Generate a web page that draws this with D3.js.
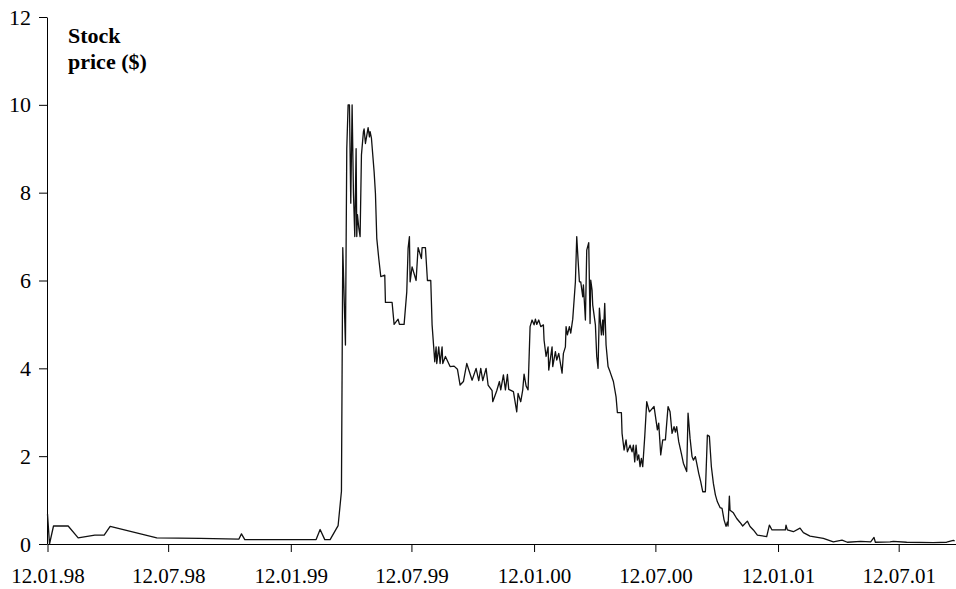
<!DOCTYPE html>
<html><head><meta charset="utf-8">
<script src="https://cdn.jsdelivr.net/npm/d3@7"></script>
<style>body{margin:0;background:#fff} svg{display:block} text{font-family:"Liberation Serif","Times New Roman",serif;}</style>
</head><body>
<svg id="c" width="956" height="589"></svg>
<script>
const dates = [
"1998-01-12","1998-01-15","1998-01-21","1998-02-12","1998-02-27","1998-03-24","1998-04-07","1998-04-16","1998-06-25","1998-08-29",
"1998-10-26","1998-10-30","1998-11-04","1999-02-19","1999-02-25","1999-03-04","1999-03-12","1999-03-24","1999-03-29","1999-03-31",
"1999-04-04","1999-04-06","1999-04-08","1999-04-10","1999-04-12","1999-04-14","1999-04-16","1999-04-18","1999-04-20","1999-04-21",
"1999-04-22","1999-04-24","1999-04-26","1999-04-28","1999-05-01","1999-05-02","1999-05-04","1999-05-08","1999-05-10","1999-05-11",
"1999-05-13","1999-05-17","1999-05-19","1999-05-21","1999-05-24","1999-05-27","1999-06-02","1999-06-03","1999-06-13","1999-06-16",
"1999-06-22","1999-06-24","1999-07-01","1999-07-05","1999-07-07","1999-07-09","1999-07-10","1999-07-13","1999-07-19","1999-07-22",
"1999-07-27","1999-07-28","1999-08-02","1999-08-05","1999-08-10","1999-08-12","1999-08-16","1999-08-18","1999-08-19","1999-08-22",
"1999-08-24","1999-08-27","1999-08-28","1999-09-01","1999-09-08","1999-09-14","1999-09-19","1999-09-23","1999-09-28","1999-10-03",
"1999-10-11","1999-10-17","1999-10-21","1999-10-24","1999-10-27","1999-11-01","1999-11-04","1999-11-10","1999-11-11","1999-11-17",
"1999-11-21","1999-11-23","1999-11-27","1999-11-30","1999-12-03","1999-12-05","1999-12-12","1999-12-17","1999-12-19","1999-12-23",
"1999-12-26","1999-12-28","1999-12-31","2000-01-03","2000-01-06","2000-01-09","2000-01-12","2000-01-14","2000-01-16","2000-01-19",
"2000-01-22","2000-01-26","2000-01-27","2000-01-30","2000-02-02","2000-02-03","2000-02-08","2000-02-09","2000-02-13","2000-02-15",
"2000-02-18","2000-02-23","2000-02-25","2000-02-28","2000-02-29","2000-03-02","2000-03-05","2000-03-07","2000-03-10","2000-03-14",
"2000-03-16","2000-03-18","2000-03-20","2000-03-22","2000-03-25","2000-03-26","2000-03-29","2000-03-31","2000-04-03","2000-04-05",
"2000-04-06","2000-04-08","2000-04-09","2000-04-13","2000-04-15","2000-04-17","2000-04-19","2000-04-22","2000-04-24","2000-04-25",
"2000-04-27","2000-04-29","2000-05-02","2000-05-05","2000-05-10","2000-05-14","2000-05-16","2000-05-22","2000-05-23","2000-05-26",
"2000-05-29","2000-05-31","2000-06-04","2000-06-07","2000-06-09","2000-06-11","2000-06-13","2000-06-15","2000-06-17","2000-06-19",
"2000-06-21","2000-06-23","2000-06-26","2000-06-29","2000-07-03","2000-07-10","2000-07-15","2000-07-17","2000-07-20","2000-07-23",
"2000-07-27","2000-07-31","2000-08-03","2000-08-06","2000-08-09","2000-08-11","2000-08-13","2000-08-16","2000-08-20","2000-08-23",
"2000-08-28","2000-08-30","2000-09-02","2000-09-05","2000-09-07","2000-09-10","2000-09-12","2000-09-15","2000-09-18","2000-09-21",
"2000-09-25","2000-09-28","2000-10-01","2000-10-04","2000-10-07","2000-10-10","2000-10-13","2000-10-17","2000-10-20","2000-10-23",
"2000-10-26","2000-10-28","2000-10-29","2000-10-31","2000-11-01","2000-11-06","2000-11-11","2000-11-16","2000-11-20","2000-11-27",
"2000-12-01","2000-12-06","2000-12-12","2000-12-26","2000-12-30","2001-01-03","2001-01-23","2001-01-24","2001-01-26","2001-02-04",
"2001-02-14","2001-02-19","2001-02-24","2001-03-01","2001-03-21","2001-04-05","2001-04-18","2001-04-26","2001-05-16","2001-05-31",
"2001-06-05","2001-06-07","2001-06-29","2001-07-04","2001-07-24","2001-09-02","2001-09-22","2001-10-02","2001-10-04"
];
const prices = [
0.68,0.00,0.41,0.41,0.14,0.20,0.20,0.40,0.14,0.13,
0.11,0.23,0.10,0.10,0.33,0.10,0.10,0.42,1.20,6.75,
4.53,9.00,10.0,10.0,7.76,10.0,8.00,7.00,9.00,7.00,
7.50,7.20,7.00,8.86,9.39,9.45,9.12,9.48,9.27,9.39,
9.24,8.48,7.98,6.96,6.50,6.09,6.12,5.50,5.50,5.00,
5.12,5.00,5.00,5.74,6.73,7.00,5.97,6.31,6.00,6.75,
6.50,6.75,6.75,6.00,6.00,4.99,4.15,4.49,4.11,4.49,
4.11,4.49,4.11,4.27,4.04,4.05,3.98,3.62,3.70,4.11,
3.73,4.00,3.72,4.00,3.72,4.00,3.62,3.49,3.24,3.49,
3.70,3.51,3.85,3.51,3.86,3.52,3.47,3.01,3.43,3.24,
3.51,3.87,3.60,3.51,4.95,5.10,4.99,5.12,5.00,5.10,
4.95,4.99,4.64,4.27,4.49,3.96,4.49,4.04,4.38,4.19,
4.34,3.89,4.34,4.49,4.95,4.76,4.95,4.80,5.12,5.97,
7.00,6.47,5.97,5.97,5.63,5.90,5.10,6.69,6.86,5.02,
6.01,5.78,5.44,4.99,4.27,4.00,5.37,4.76,5.10,4.76,
5.48,4.53,4.04,3.92,3.70,3.35,2.99,2.99,2.52,2.14,
2.37,2.10,2.25,2.10,2.25,1.87,2.25,1.91,2.03,1.76,
1.95,1.76,2.44,3.24,3.01,3.13,2.60,2.75,2.03,2.37,
2.37,3.13,3.01,2.52,2.67,2.55,2.67,2.33,2.06,1.84,
1.65,2.98,2.41,1.99,1.91,1.99,1.84,1.61,1.42,1.19,
1.19,2.48,2.45,1.76,1.38,1.12,0.96,0.83,0.81,0.55,
0.40,0.50,0.41,1.09,0.77,0.71,0.58,0.49,0.41,0.52,
0.40,0.32,0.20,0.17,0.43,0.32,0.32,0.43,0.32,0.28,
0.36,0.26,0.22,0.18,0.13,0.05,0.09,0.04,0.06,0.05,
0.15,0.04,0.05,0.06,0.04,0.03,0.04,0.08,0.07
];
const xTicks = ["1998-01-12","1998-07-12","1999-01-12","1999-07-12","2000-01-12","2000-07-12","2001-01-12","2001-07-12"];
const yTicks = [0,2,4,6,8,10,12];
const yTitle = ["Stock","price ($)"];

const parse = d3.utcParse("%Y-%m-%d");
const fmt = d3.utcFormat("%d.%m.%y");
const data = dates.map((d,i)=>({date:parse(d), v:prices[i]}));

const svg = d3.select("#c");
const x = d3.scaleUtc().domain([parse("1998-01-12"), parse("2001-10-06")]).range([47.5, 956]);
const y = d3.scaleLinear().domain([0,12]).range([544, 17]);

const gx = svg.append("g").attr("transform","translate(0,544)")
  .call(d3.axisBottom(x).tickValues(xTicks.map(parse)).tickFormat(fmt).tickSize(8).tickPadding(16).tickSizeOuter(0));
const gy = svg.append("g").attr("transform","translate(47,0)")
  .call(d3.axisLeft(y).tickValues(yTicks).tickFormat(d3.format("d")).tickSize(8).tickPadding(8).tickSizeOuter(0));
[gx,gy].forEach(g=>{
  g.attr("font-family",null).attr("font-size",null);
  g.selectAll("text").style("font-size","21px").attr("fill","#000");
  g.selectAll("line,path").attr("stroke","#000").attr("stroke-width",1);
});
gy.selectAll("text").style("font-size","22px");

svg.append("path").datum(data)
  .attr("fill","none").attr("stroke","#111").attr("stroke-width",1.3).attr("stroke-linejoin","round")
  .attr("d", d3.line().x(d=>x(d.date)).y(d=>y(d.v)));

svg.append("g").selectAll("text").data(yTitle).join("text")
  .attr("x",68).attr("y",(d,i)=>43+i*26)
  .style("font-size","22px").style("font-weight","bold").attr("fill","#000")
  .text(d=>d);
</script>
</body></html>
